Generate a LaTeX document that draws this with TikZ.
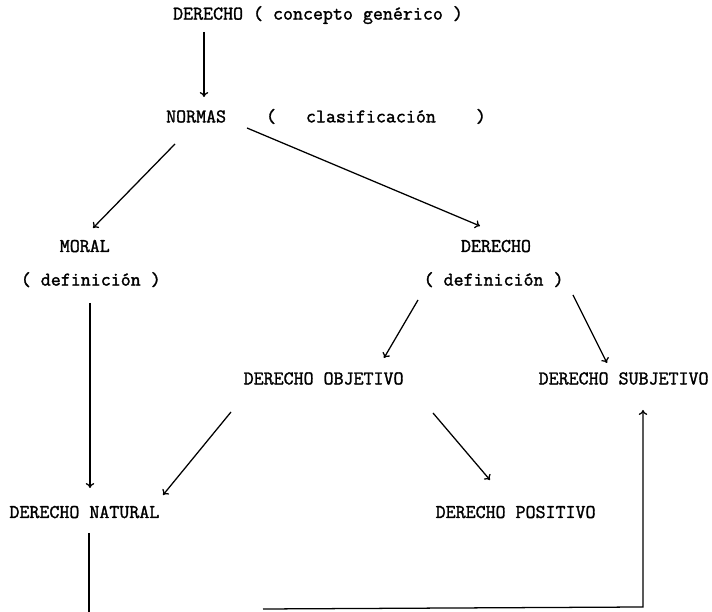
\documentclass[tikz,border=0pt]{standalone}
\usepackage{fontspec}
\setmonofont{Latin Modern Mono}[AutoFakeBold=1.6]
\usetikzlibrary{arrows.meta}
\begin{document}
\begin{tikzpicture}[lbl/.style={anchor=base,inner sep=0pt,font=\fontsize{13.8}{16}\selectfont\ttfamily\bfseries},every path/.style={line width=0.9pt},>={To[length=3.5pt,width=6pt]}]
	\useasboundingbox (0,0) rectangle (17.8,15.3);
	% texto
	\node[lbl] at (7.95,14.81) (top) {DERECHO ( concepto genérico )};
	\node[lbl] at (8.15,12.24) (normas) {NORMAS\ \ \ \ (\ \ \ clasificación\ \ \ \ )};
	\node[lbl] at (2.12,9.0) (moral) {MORAL};
	\node[lbl] at (2.27,8.16) (defm) {( definición )};
	\node[lbl] at (12.4,9.0) (der) {DERECHO};
	\node[lbl] at (12.34,8.16) (defd) {( definición )};
	\node[lbl] at (8.09,5.69) (obj) {DERECHO OBJETIVO};
	\node[lbl] at (15.59,5.69) (subj) {DERECHO SUBJETIVO};
	\node[lbl] at (2.11,2.35) (nat) {DERECHO NATURAL};
	\node[lbl] at (12.89,2.35) (pos) {DERECHO POSITIVO};
	% extremos de flechas
	\coordinate (a1) at (5.1,14.5);
	\coordinate (b1) at (5.1,12.875);
	\coordinate (a2) at (4.375,11.7);
	\coordinate (b2) at (2.325,9.6);
	\coordinate (a3) at (6.175,12.1);
	\coordinate (b3) at (12.0,9.65);
	\coordinate (a4) at (2.25,7.725);
	\coordinate (b4) at (2.25,3.1);
	\coordinate (a5) at (10.45,7.8);
	\coordinate (b5) at (9.6,6.35);
	\coordinate (a6) at (14.325,7.925);
	\coordinate (b6) at (15.175,6.225);
	\coordinate (a7) at (5.775,5.0);
	\coordinate (b7) at (4.075,2.925);
	\coordinate (a8) at (10.825,4.975);
	\coordinate (b8) at (12.25,3.3);
	\coordinate (a9) at (2.225,1.975);
	\coordinate (b9) at (2.225,0);
	\coordinate (a10) at (6.575,0.075);
	\coordinate (c10) at (16.075,0.125);
	\coordinate (b10) at (16.075,5.05);
	% flechas
	\draw[->] (a1) -- (b1);
	\draw[->] (a2) -- (b2);
	\draw[->] (a3) -- (b3);
	\draw[->] (a4) -- (b4);
	\draw[->] (a5) -- (b5);
	\draw[->] (a6) -- (b6);
	\draw[->] (a7) -- (b7);
	\draw[->] (a8) -- (b8);
	\draw[] (a9) -- (b9);
	\draw[->] (a10) -- (c10) -- (b10);
\end{tikzpicture}
\end{document}
